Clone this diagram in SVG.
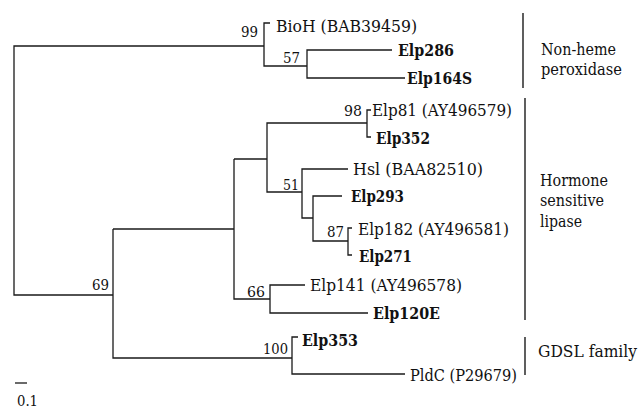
<svg xmlns="http://www.w3.org/2000/svg" width="639" height="410" viewBox="0 0 639 410">
<style>
text{font-family:"DejaVu Serif",serif;font-size:16px;fill:#111}
.b{font-weight:bold}
.n{font-size:15px;text-anchor:end}
.br{fill:none;stroke:#1a1a1a;stroke-width:1.3}
.bar{stroke:#1a1a1a;stroke-width:1.4}
</style>
<rect width="639" height="410" fill="#fff"/>
<g id="connectors" class="br">
<path d="M264,46H14V295H113"/>
<path d="M270,23H264V66H307"/>
<path d="M392,50H307V78H405"/>
<path d="M113,229V358H292"/>
<path d="M113,229H234"/>
<path d="M234,159V299H270"/>
<path d="M234,159H267"/>
<path d="M367,123H267V192H302"/>
<path d="M371,110H367V137H371"/>
<path d="M348,169H302V218H313"/>
<path d="M342,196H313V241H348"/>
<path d="M352,228H348V255H352"/>
<path d="M305,285H270V313H368"/>
<path d="M298,337H292V374H405"/>
<path d="M15,383H27"/>
</g>
<g id="n99"><text class="n" x="258" y="37" textLength="17" lengthAdjust="spacingAndGlyphs">99</text></g>
<g id="n57"><text class="n" x="300" y="63" textLength="17" lengthAdjust="spacingAndGlyphs">57</text></g>
<g id="n98"><text class="n" x="362" y="116" textLength="18" lengthAdjust="spacingAndGlyphs">98</text></g>
<g id="n51"><text class="n" x="299" y="190" textLength="16" lengthAdjust="spacingAndGlyphs">51</text></g>
<g id="n87"><text class="n" x="344" y="237" textLength="17" lengthAdjust="spacingAndGlyphs">87</text></g>
<g id="n66"><text class="n" x="265" y="297" textLength="18" lengthAdjust="spacingAndGlyphs">66</text></g>
<g id="n69"><text class="n" x="109" y="290" textLength="17" lengthAdjust="spacingAndGlyphs">69</text></g>
<g id="n100"><text class="n" x="288" y="354" textLength="25" lengthAdjust="spacingAndGlyphs">100</text></g>
<g id="BioH"><text x="276" y="32" textLength="141" lengthAdjust="spacingAndGlyphs">BioH (BAB39459)</text></g>
<g id="Elp286"><text class="b" x="398" y="56" textLength="56" lengthAdjust="spacingAndGlyphs">Elp286</text></g>
<g id="Elp164S"><text class="b" x="407" y="84" textLength="65" lengthAdjust="spacingAndGlyphs">Elp164S</text></g>
<g id="Elp81"><text x="372" y="116" textLength="140" lengthAdjust="spacingAndGlyphs">Elp81 (AY496579)</text></g>
<g id="Elp352"><text class="b" x="376" y="144" textLength="54" lengthAdjust="spacingAndGlyphs">Elp352</text></g>
<g id="Hsl"><text x="353" y="175" textLength="130" lengthAdjust="spacingAndGlyphs">Hsl (BAA82510)</text></g>
<g id="Elp293"><text class="b" x="351" y="202" textLength="53" lengthAdjust="spacingAndGlyphs">Elp293</text></g>
<g id="Elp182"><text x="358" y="235" textLength="151" lengthAdjust="spacingAndGlyphs">Elp182 (AY496581)</text></g>
<g id="Elp271"><text class="b" x="359" y="262" textLength="53" lengthAdjust="spacingAndGlyphs">Elp271</text></g>
<g id="Elp141"><text x="310" y="291" textLength="152" lengthAdjust="spacingAndGlyphs">Elp141 (AY496578)</text></g>
<g id="Elp120E"><text class="b" x="373" y="319" textLength="67" lengthAdjust="spacingAndGlyphs">Elp120E</text></g>
<g id="Elp353"><text class="b" x="302" y="346" textLength="56" lengthAdjust="spacingAndGlyphs">Elp353</text></g>
<g id="PldC"><text x="410" y="381" textLength="107" lengthAdjust="spacingAndGlyphs">PldC (P29679)</text></g>
<g id="grp-nonheme">
<line class="bar" x1="523" y1="13" x2="523" y2="88"/>
<text x="541" y="55" textLength="75" lengthAdjust="spacingAndGlyphs">Non-heme</text>
<text x="541" y="75" textLength="81" lengthAdjust="spacingAndGlyphs">peroxidase</text>
</g>
<g id="grp-hsl">
<line class="bar" x1="525" y1="98" x2="525" y2="320"/>
<text x="540" y="186" textLength="68" lengthAdjust="spacingAndGlyphs">Hormone</text>
<text x="540" y="206" textLength="64" lengthAdjust="spacingAndGlyphs">sensitive</text>
<text x="540" y="227" textLength="42" lengthAdjust="spacingAndGlyphs">lipase</text>
</g>
<g id="grp-gdsl">
<line class="bar" x1="525" y1="337" x2="525" y2="375"/>
<text x="538" y="357" textLength="99" lengthAdjust="spacingAndGlyphs">GDSL family</text>
</g>
<g id="scale"><text x="17" y="406" style="font-size:15px" textLength="21" lengthAdjust="spacingAndGlyphs">0.1</text></g>
</svg>
